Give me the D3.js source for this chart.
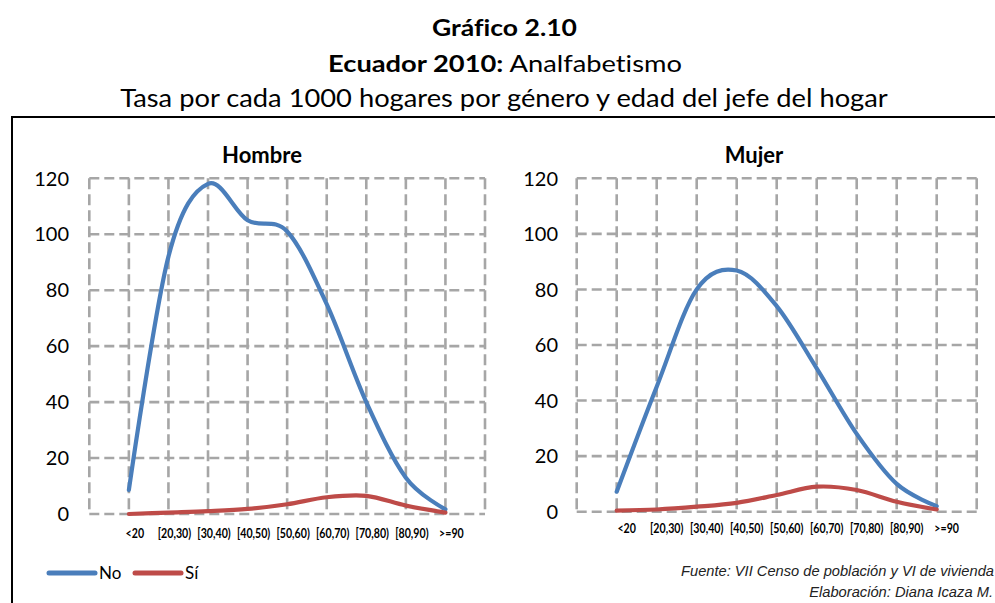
<!DOCTYPE html>
<html><head><meta charset="utf-8">
<script src="https://cdn.jsdelivr.net/npm/d3@7"></script>
<style>body{margin:0;background:#fff} svg{display:block} text{font-variant-ligatures:none;font-feature-settings:"liga" 0,"clig" 0}</style>
</head><body><svg id="c" width="995" height="603"></svg>
<script>
// ---- data ----
const categories = ["<20","[20,30)","[30,40)","[40,50)","[50,60)","[60,70)","[70,80)","[80,90)",">=90"];
const hombreNo = [8.6, 92, 118, 105, 101, 75, 40, 13, 1.7];
const hombreSi = [0, 0.5, 1, 1.8, 3.5, 6, 6.5, 3, 0.5];
const mujerNo  = [7.2, 45, 80, 86.8, 74, 51.6, 28, 10, 2];
const mujerSi  = [0.4, 0.8, 1.8, 3.2, 6, 9, 7.8, 3.6, 0.8];
const yTicks = [0, 20, 40, 60, 80, 100, 120];
const seriesNames = ["No", "Sí"];
const panelTitles = ["Hombre", "Mujer"];
const titleLine1 = "Gráfico 2.10";
const titleLine2Bold = "Ecuador 2010:";
const titleLine2 = " Analfabetismo";
const titleLine3 = "Tasa por cada 1000 hogares por género y edad del jefe del hogar";
const source1 = "Fuente: VII Censo de población y VI de vivienda";
const source2 = "Elaboración: Diana Icaza M.";

const colors = ["#4a7ebb", "#be4b48"];
const FONT = "Lato, 'Open Sans', sans-serif";

const svg = d3.select("#c");

function fitWidth(sel, cx, target) {
  const w = sel.node().getBBox().width;
  const s = target / w;
  sel.attr("transform", `translate(${cx},0) scale(${s},1) translate(${-cx},0)`);
}

// frame
svg.append("rect").attr("x", 12).attr("y", 117).attr("width", 1000).attr("height", 500)
  .attr("fill", "none").attr("stroke", "#000").attr("stroke-width", 2);

// titles
const t1 = svg.append("text").attr("x", 504.5).attr("y", 36).attr("text-anchor", "middle")
  .attr("font-family", FONT).attr("font-weight", "bold").attr("font-size", 23).attr("fill", "#000").text(titleLine1);
fitWidth(t1, 504.5, 145);
const t2 = svg.append("text").attr("x", 505).attr("y", 72).attr("text-anchor", "middle")
  .attr("font-family", FONT).attr("font-size", 23).attr("fill", "#000");
t2.append("tspan").attr("font-weight", "bold").text(titleLine2Bold);
t2.append("tspan").text(titleLine2);
fitWidth(t2, 505, 354);
const t3 = svg.append("text").attr("x", 504).attr("y", 107).attr("text-anchor", "middle")
  .attr("font-family", FONT).attr("font-size", 25).attr("fill", "#000").text(titleLine3);
fitWidth(t3, 504, 768);

// panels
const panels = [
  { title: panelTitles[0], series: [hombreNo, hombreSi], x0: 89.3, x1: 485, y0: 514, y1: 178.3,
    tickX: 69, titleX: 262, labY: 538, labDx: 6 },
  { title: panelTitles[1], series: [mujerNo, mujerSi], x0: 576.7, x1: 976.7, y0: 511.7, y1: 178.3,
    tickX: 558, titleX: 754, labY: 533, labDx: 10 }
];

panels.forEach(p => {
  const x = d3.scaleLinear().domain([-1, categories.length]).range([p.x0, p.x1]);
  const y = d3.scaleLinear().domain([0, 120]).range([p.y0, p.y1]);
  const g = svg.append("g");

  // grid
  const gridIdx = d3.range(-1, categories.length + 1);
  g.selectAll(".hg").data(yTicks).join("line")
    .attr("x1", x(-1)).attr("x2", x(categories.length))
    .attr("y1", d => y(d)).attr("y2", d => y(d))
    .attr("stroke", "#a6a6a6").attr("stroke-width", 2.6).attr("stroke-dasharray", "10,5");
  g.selectAll(".vg").data(gridIdx).join("line")
    .attr("x1", d => x(d)).attr("x2", d => x(d))
    .attr("y1", y(120)).attr("y2", y(0))
    .attr("stroke", "#a6a6a6").attr("stroke-width", 2.6).attr("stroke-dasharray", "11,5");

  // y axis labels
  g.selectAll(".yt").data(yTicks).join("text")
    .attr("x", p.tickX).attr("y", d => y(d)).attr("dy", "0.36em")
    .attr("text-anchor", "end").attr("font-family", FONT).attr("font-size", 20).attr("fill", "#000")
    .text(d => d);

  // x labels (condensed via horizontal scale)
  g.selectAll(".xt").data(categories).join("g")
    .attr("transform", (d, i) => `translate(${x(i) + p.labDx},${p.labY}) scale(0.76,1)`)
    .append("text")
    .attr("text-anchor", "middle").attr("font-family", FONT).attr("font-weight", "bold")
    .attr("font-size", 14).attr("fill", "#000")
    .text(d => d);

  // title
  g.append("text").attr("x", p.titleX).attr("y", 163).attr("text-anchor", "middle")
    .attr("font-family", FONT).attr("font-weight", "bold").attr("font-size", 22).attr("fill", "#000")
    .text(p.title);

  // lines
  const line = d3.line().x((d, i) => x(i)).y(d => y(d)).curve(d3.curveCardinal.tension(0));
  p.series.forEach((s, k) => {
    g.append("path").attr("d", line(s)).attr("fill", "none")
      .attr("stroke", colors[k]).attr("stroke-width", 4.2)
      .attr("stroke-linecap", "round").attr("stroke-linejoin", "round");
  });
});

// legend
const legendX = [49, 135];
seriesNames.forEach((n, k) => {
  svg.append("line").attr("x1", legendX[k]).attr("x2", legendX[k] + 46)
    .attr("y1", 573).attr("y2", 573).attr("stroke", colors[k]).attr("stroke-width", 5)
    .attr("stroke-linecap", "round");
  svg.append("text").attr("x", legendX[k] + 50).attr("y", 579)
    .attr("font-family", FONT).attr("font-size", 17).attr("fill", "#000").text(n);
});

// source
const s1 = svg.append("text").attr("x", 994).attr("y", 576).attr("text-anchor", "end")
  .attr("font-family", "'Liberation Sans Narrow', 'Liberation Sans', sans-serif")
  .attr("font-style", "italic").attr("font-size", 15).attr("fill", "#222").text(source1);
fitWidth(s1, 994, 313);
const s2 = svg.append("text").attr("x", 993).attr("y", 597).attr("text-anchor", "end")
  .attr("font-family", "'Liberation Sans Narrow', 'Liberation Sans', sans-serif")
  .attr("font-style", "italic").attr("font-size", 15).attr("fill", "#222").text(source2);
fitWidth(s2, 993, 184);
</script>
</body></html>
